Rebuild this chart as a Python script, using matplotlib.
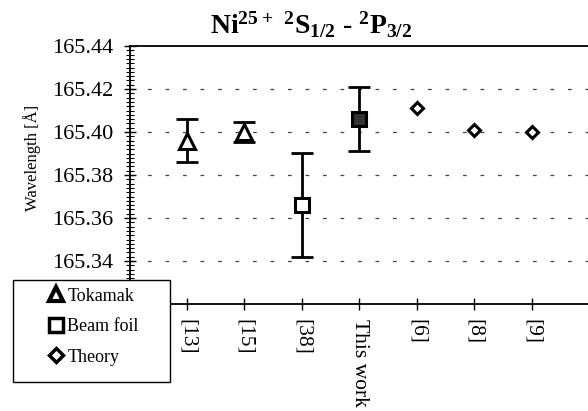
import matplotlib
matplotlib.use('Agg')
import matplotlib.pyplot as plt
from matplotlib.lines import Line2D
from matplotlib.patches import Rectangle
from matplotlib.ticker import MultipleLocator
import numpy as np

plt.rcParams['font.family'] = ['Liberation Serif', 'DejaVu Serif']
plt.rcParams['mathtext.fontset'] = 'custom'
plt.rcParams['mathtext.rm'] = 'Liberation Serif:bold'
plt.rcParams['mathtext.default'] = 'rm'

# ── data ────────────────────────────────────────
refs = ['[13]', '[15]', '[38]', 'This work', '[6]', '[8]', '[9]']

tok_refs = ['[13]', '[15]']
tok_vals = [165.396, 165.400]
tok_errs = [0.010, 0.0045]

bf_refs = ['[38]', 'This work']
bf_vals = [165.366, 165.406]
bf_errs = [0.024, 0.015]
bf_fill = ['white', '#333333']

th_refs = ['[6]', '[8]', '[9]']
th_vals = [165.411, 165.401, 165.400]

ypos = {r: i + 1 for i, r in enumerate(refs)}

fig = plt.figure(figsize=(5.88, 4.11), dpi=100)
ax = fig.add_axes([129.5/588, 1 - 304/411, 460/588, 258/411])

# grid
for yv in [165.34, 165.36, 165.38, 165.40, 165.42]:
    ax.axhline(yv, color='#444444', lw=0.9, ls=(0, (3, 11)), zorder=0)

x_tok = [ypos[r] for r in tok_refs]
ax.errorbar(x_tok, tok_vals, yerr=tok_errs, fmt='none', ecolor='black',
            elinewidth=2, capsize=8, capthick=2, zorder=2)
ax.plot(x_tok, tok_vals, '^', ms=11, mfc='white', mec='black', mew=2.2, zorder=3)

x_bf = [ypos[r] for r in bf_refs]
ax.errorbar(x_bf, bf_vals, yerr=bf_errs, fmt='none', ecolor='black',
            elinewidth=2, capsize=8, capthick=2, zorder=2)
for xv, yv, fc in zip(x_bf, bf_vals, bf_fill):
    ax.plot(xv, yv, 's', ms=10, mfc=fc, mec='black', mew=2.2, zorder=3)

x_th = [ypos[r] for r in th_refs]
ax.plot(x_th, th_vals, 'D', ms=6.5, mfc='white', mec='black', mew=2.2, zorder=3)

ax.set_xlim(0, 8)
ax.set_ylim(165.32, 165.44)
ax.set_xticks(list(ypos.values()))
ax.set_xticklabels(refs, rotation=-90, va='top', ha='center', fontsize=15.5)
ax.set_yticks([165.34, 165.36, 165.38, 165.40, 165.42, 165.44])
ax.set_yticklabels(['%.2f' % v for v in ax.get_yticks()], fontsize=16)
ax.yaxis.set_minor_locator(MultipleLocator(0.002))
ax.tick_params(axis='y', which='major', direction='inout', length=9, width=1, pad=7)
ax.tick_params(axis='y', which='minor', direction='inout', length=6, width=0.8)
ax.tick_params(axis='x', which='major', direction='inout', length=9, width=1, pad=6)
ax.spines['right'].set_visible(False)
for s in ['top', 'left', 'bottom']:
    ax.spines[s].set_linewidth(1.3)

fig.text(32/588, 1 - 158/411, 'Wavelength [Å]', rotation=90, ha='center',
         va='center', fontsize=12)
fig.text(311/588, 1 - 25/411, r'Ni$^{25+}$ $^{2}$S$_{1/2}$ - $^{2}$P$_{3/2}$',
         ha='center', va='center', fontsize=20, fontweight='bold')

# legend box drawn over the axes corner
fig.patches.append(Rectangle((13/588, 1 - 382/411), 157/588, 102/411,
                             transform=fig.transFigure, facecolor='white',
                             edgecolor='black', lw=1.0, zorder=4))
handles = [
    Line2D([], [], ls='none', marker='^', ms=10, mfc='white', mec='black', mew=3),
    Line2D([], [], ls='none', marker='s', ms=10, mfc='white', mec='black', mew=2.5),
    Line2D([], [], ls='none', marker='D', ms=7, mfc='white', mec='black', mew=2.5),
]
leg = fig.legend(handles, ['Tokamak', 'Beam foil', 'Theory'],
                 loc='upper left', bbox_to_anchor=(42/588, 1 - 284/411),
                 borderaxespad=0, frameon=False, fontsize=13,
                 handlelength=1.2, handletextpad=0.0, labelspacing=0.75,
                 borderpad=0.2)
leg.set_zorder(5)

plt.savefig('out.png', dpi=100)
